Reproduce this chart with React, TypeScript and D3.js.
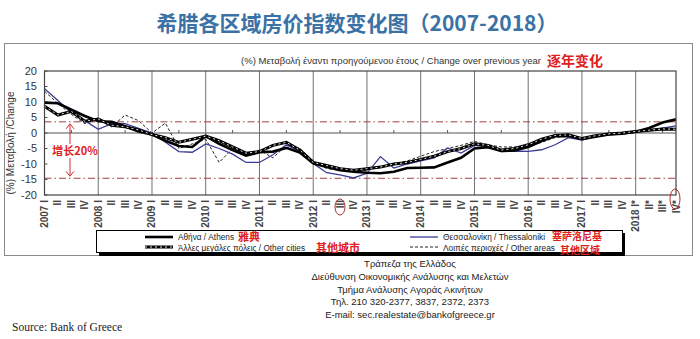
import React from "react";
import * as d3 from "d3";

const years = [2007, 2008, 2009, 2010, 2011, 2012, 2013, 2014, 2015, 2016, 2017, 2018];
const quarterNames = ["I", "II", "III", "IV"];
const yTicks = [20, 15, 10, 5, 0, -5, -10, -15, -20];

const athens = [9.8, 9.6, 7.5, 5.5, 3.8, 3.6, 2.2, 0.5, -0.5, -2.5, -4.2, -4.5, -1.0, -3.5, -5.5, -7.3, -6.2, -6.0, -4.8, -6.3, -9.8, -11.0, -12.0, -12.5, -12.8, -13.0, -12.5, -11.3, -11.2, -11.1, -9.5, -8.0, -5.0, -4.6, -5.8, -5.6, -4.5, -2.6, -1.0, -1.0, -2.0, -1.2, -0.5, -0.2, 0.4, 1.6, 3.4, 4.4];
const otherCities = [8.6, 5.8, 7.0, 3.8, 4.5, 2.5, 2.0, 1.0, -0.5, -1.5, -3.0, -2.0, -1.0, -2.5, -4.5, -6.5, -6.0, -4.0, -3.0, -5.5, -9.5, -10.5, -11.5, -12.0, -11.5, -11.0, -10.0, -9.5, -8.5, -7.5, -6.0, -5.0, -3.5, -4.0, -5.5, -5.0, -3.8, -2.0, -0.8, -0.6, -1.8, -0.9, -0.3, 0.0, 0.5, 0.9, 1.3, 1.2];
const thessaloniki = [14.3, 10.5, 6.5, 4.0, 1.2, 3.0, 3.0, 1.5, 0.0, -3.0, -6.0, -6.2, -3.5, -5.0, -6.8, -9.5, -9.5, -7.0, -3.8, -6.0, -9.8, -12.8, -13.5, -14.5, -13.0, -7.6, -11.3, -10.0, -9.0, -8.0, -4.8, -6.5, -4.0, -4.5, -6.0, -5.8, -5.9, -5.4, -3.8, -1.5, -2.3, -1.0, -0.5, -0.3, 0.3, 0.8, 1.6, 2.3];
const otherAreas = [13.5, 9.5, 6.0, 3.0, 4.5, 2.0, 5.8, 4.0, 0.0, 3.2, -5.0, -3.5, -2.0, -9.5, -5.0, -7.0, -5.5, -8.0, -4.0, -5.0, -9.0, -11.5, -12.0, -12.5, -12.0, -10.8, -10.0, -9.0, -7.5, -6.0, -5.0, -4.0, -2.7, -3.8, -4.5, -4.5, -4.5, -3.0, -1.5, -0.8, -1.5, -0.8, -0.3, 0.1, 0.6, 0.8, 1.0, 1.2];
const refLines = [3.6, -14.6];

const footerLines = [
  "Τράπεζα της Ελλάδος",
  "Διεύθυνση Οικονομικής Ανάλυσης και Μελετών",
  "Τμήμα Ανάλυσης Αγοράς Ακινήτων",
  "Τηλ. 210 320-2377, 3837, 2372, 2373",
  "E-mail: sec.realestate@bankofgreece.gr",
];

const SANS = "'Liberation Sans', Arial, sans-serif";
const CJK = "'Noto Sans CJK SC', sans-serif";

export default function App() {
  const n = athens.length;
  const x = d3.scaleLinear().domain([0, n - 1]).range([44.5, 676]);
  const y = d3.scaleLinear().domain([-20, 20]).range([195, 71]);
  const line = d3
    .line<number>()
    .x((_, i) => x(i))
    .y((d) => y(d));

  const labels: string[] = [];
  years.forEach((yr) => {
    quarterNames.forEach((q, qi) => {
      const star = yr === 2018 ? "*" : "";
      labels.push(qi === 0 ? `${yr} ${q}${star}` : `${q}${star}`);
    });
  });

  const left = x(0);
  const right = x(n - 1);
  const top = y(20);
  const bottom = y(-20);
  const navy = "#3b3b96";

  return (
    <svg
      width={700}
      height={339}
      style={{ position: "absolute", left: 0, top: 0, background: "#fff" }}
    >
      <rect x={0} y={0} width={700} height={339} fill="#fff" />
      <text
        x={357}
        y={31}
        textAnchor="middle"
        fontFamily={CJK}
        fontWeight="bold"
        fontSize={21}
        fill="#3a72a6"
      >
        希腊各区域房价指数变化图（2007-2018）
      </text>

      {/* outer frame */}
      <rect x={4.5} y={43.5} width={688} height={212} fill="none" stroke="#8a8a8a" strokeWidth={1} />

      <text x={391} y={64} textAnchor="middle" fontFamily={SANS} fontSize={9.5} fill="#333">
        (%) Μεταβολή έναντι προηγούμενου έτους / Change over previous year
      </text>
      <text x={547} y={66} fontFamily={CJK} fontWeight="bold" fontSize={14} fill="#e02020">
        逐年变化
      </text>

      {/* gridlines */}
      {years.slice(1).map((yr, k) => (
        <line
          key={yr}
          x1={x((k + 1) * 4)}
          x2={x((k + 1) * 4)}
          y1={top}
          y2={bottom}
          stroke="#6f6f78"
          strokeWidth={1}
        />
      ))}
      <line x1={left} x2={right} y1={y(0)} y2={y(0)} stroke="#555" strokeWidth={1} />
      {years.map((yr, k) => (
        <line key={"t" + yr} x1={x(k * 4 + 2)} x2={x(k * 4 + 2)} y1={y(0)} y2={y(0) - 3} stroke="#555" />
      ))}
      {yTicks.map((t) => (
        <line key={"yt" + t} x1={left} x2={left + 3} y1={y(t)} y2={y(t)} stroke="#555" />
      ))}
      {refLines.map((v) => (
        <line
          key={"r" + v}
          x1={left}
          x2={right}
          y1={y(v)}
          y2={y(v)}
          stroke="#a04040"
          strokeWidth={1}
          strokeDasharray="7,3,1.5,3"
        />
      ))}

      {/* series */}
      <path d={line(otherAreas) || ""} fill="none" stroke="#222" strokeWidth={1} strokeDasharray="3,2" />
      <path d={line(thessaloniki) || ""} fill="none" stroke={navy} strokeWidth={1.3} />
      <path d={line(athens) || ""} fill="none" stroke="#000" strokeWidth={2.6} />
      <path d={line(otherCities) || ""} fill="none" stroke="#000" strokeWidth={3} />
      <path d={line(otherCities) || ""} fill="none" stroke="#fff" strokeWidth={0.9} strokeDasharray="2,3" />

      {/* plot border */}
      <rect x={left} y={top} width={right - left} height={bottom - top} fill="none" stroke="#444" strokeWidth={1.2} />

      {/* y axis labels */}
      {yTicks.map((t) => (
        <text
          key={"yl" + t}
          x={37}
          y={y(t)}
          dy="0.35em"
          textAnchor="end"
          fontFamily={SANS}
          fontSize={11}
          fill="#333"
        >
          {t}
        </text>
      ))}
      <text
        transform={`translate(14,${143}) rotate(-90)`}
        textAnchor="middle"
        fontFamily={SANS}
        fontSize={10}
        fill="#333"
      >
        (%) Μεταβολή /Change
      </text>

      {/* x labels */}
      {labels.map((lab, i) => (
        <text
          key={"xl" + i}
          transform={`translate(${x(i) + 3.5},200) rotate(-90)`}
          textAnchor="end"
          fontFamily={SANS}
          fontSize={10}
          fontWeight="bold"
          fill="#444"
        >
          {lab}
        </text>
      ))}

      {/* annotations */}
      <ellipse cx={340} cy={207} rx={5} ry={8} fill="none" stroke="#b03030" strokeWidth={1} />
      <ellipse cx={675} cy={199} rx={5} ry={10} fill="none" stroke="#b03030" strokeWidth={1} />
      <line x1={70} x2={70} y1={y(refLines[0]) + 3} y2={y(refLines[1]) - 3} stroke="#d03030" strokeWidth={1} />
      <path d={`M66,${y(refLines[0]) + 7} L70,${y(refLines[0]) + 2} L74,${y(refLines[0]) + 7}`} fill="none" stroke="#d03030" />
      <path d={`M66,${y(refLines[1]) - 7} L70,${y(refLines[1]) - 2} L74,${y(refLines[1]) - 7}`} fill="none" stroke="#d03030" />
      <rect x={56} y={144} width={38} height={14} fill="#fff" />
      <text x={75} y={155} textAnchor="middle" fontFamily={CJK} fontWeight="bold" fontSize={11} fill="#e02020">
        增长20%
      </text>

      {/* legend */}
      <rect x={99} y={233} width={526} height={23} fill="#000" />
      <rect x={96.5} y={230.5} width={526} height={22} fill="#fff" stroke="#000" strokeWidth={1} />
      <line x1={145} x2={173} y1={237} y2={237} stroke="#000" strokeWidth={2.6} />
      <line x1={145} x2={173} y1={247} y2={247} stroke="#000" strokeWidth={3} />
      <line x1={145} x2={173} y1={247} y2={247} stroke="#fff" strokeWidth={0.9} strokeDasharray="2,3" />
      <text x={178} y={240} fontFamily={SANS} fontSize={8.5} fill="#222" textLength={56} lengthAdjust="spacingAndGlyphs">Αθήνα / Athens</text>
      <text x={178} y={250.5} fontFamily={SANS} fontSize={8.5} fill="#222" textLength={127} lengthAdjust="spacingAndGlyphs">Άλλες μεγάλες πόλεις / Other cities</text>
      <text x={238} y={241} fontFamily={CJK} fontWeight="bold" fontSize={11} fill="#e02020">雅典</text>
      <text x={316} y={252} fontFamily={CJK} fontWeight="bold" fontSize={11} fill="#e02020">其他城市</text>
      <line x1={410} x2={438} y1={237} y2={237} stroke={navy} strokeWidth={1.3} />
      <line x1={410} x2={438} y1={247} y2={247} stroke="#222" strokeWidth={1} strokeDasharray="3,2" />
      <text x={443} y={240} fontFamily={SANS} fontSize={8.5} fill="#222" textLength={102} lengthAdjust="spacingAndGlyphs">Θεσσαλονίκη / Thessaloniki</text>
      <text x={443} y={250.5} fontFamily={SANS} fontSize={8.5} fill="#222" textLength={112} lengthAdjust="spacingAndGlyphs">Λοιπές περιοχές / Other areas</text>
      <text x={552} y={240} fontFamily={CJK} fontWeight="bold" fontSize={10} fill="#e02020">塞萨洛尼基</text>
      <text x={560} y={253.5} fontFamily={CJK} fontWeight="bold" fontSize={10} fill="#e02020">其他区域</text>

      {/* footer */}
      {footerLines.map((t, i) => (
        <text key={"f" + i} x={410} y={267 + i * 12.8} textAnchor="middle" fontFamily={SANS} fontSize={9.5} fill="#222">
          {t}
        </text>
      ))}
      <text x={12} y={331} fontFamily="'Liberation Serif', 'DejaVu Serif', serif" fontSize={11.5} fill="#222">
        Source: Bank of Greece
      </text>
    </svg>
  );
}
